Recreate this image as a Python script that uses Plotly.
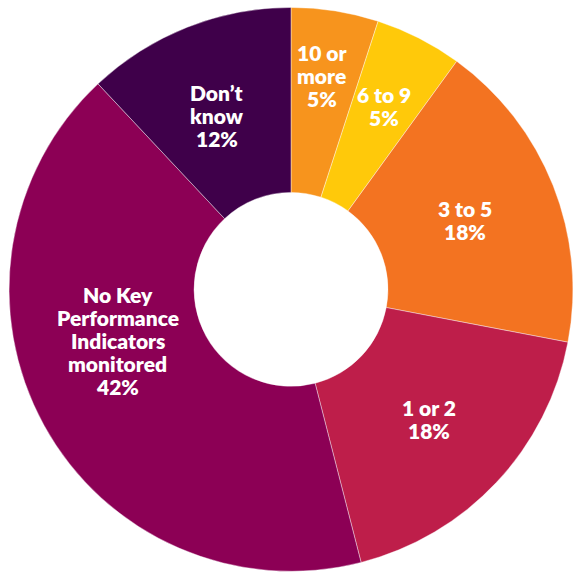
import math
import plotly.graph_objects as go

# Number of Key Performance Indicators monitored
categories = ["10 or more", "6 to 9", "3 to 5", "1 or 2",
              "No Key Performance Indicators monitored", "Don’t know"]
shares = [5, 5, 18, 18, 42, 12]
label_lines = [["10 or", "more"], ["6 to 9"], ["3 to 5"], ["1 or 2"],
               ["No Key", "Performance", "Indicators", "monitored"],
               ["Don’t", "know"]]
colors = ["#F7941D", "#FFC90A", "#F37321", "#BE1E4A", "#8C0055", "#3F004A"]

# label placement: radial fraction of the outer radius and angular nudge (deg)
label_radius = [0.765, 0.73, 0.665, 0.67, 0.64, 0.67]
label_nudge = [-0.8, 0, 0, 0, 12.5, -1.4]
LINE_GAP = 23  # px between text baselines
FONT = dict(family="Lato", size=21, color="white", weight=800)

W = H = 573
dom_x = [0.0157, 1.0]
dom_y = [0.003, 0.987]

fig = go.Figure(go.Pie(
    labels=categories,
    values=shares,
    marker=dict(colors=colors, line=dict(color="white", width=0.4)),
    hole=0.344,
    sort=False,
    direction="clockwise",
    rotation=0,
    textinfo="none",
    hoverinfo="label+percent",
    showlegend=False,
    domain=dict(x=dom_x, y=dom_y),
))

# pie geometry in pixels (plotly uses the smaller side of the domain)
dw = (dom_x[1] - dom_x[0]) * W
dh = (dom_y[1] - dom_y[0]) * H
R = min(dw, dh) / 2
cx = (dom_x[0] + dom_x[1]) / 2 * W
cy = (dom_y[0] + dom_y[1]) / 2 * H  # from bottom

total = sum(shares)
cum = 0
annotations = []
for i, v in enumerate(shares):
    mid = (cum + v / 2) / total * 360 + label_nudge[i]
    cum += v
    a = math.radians(mid)
    r = label_radius[i] * R
    px = cx + r * math.sin(a)
    py = cy + r * math.cos(a)
    lines = label_lines[i] + [f"{v}%"]
    n = len(lines)
    for k, line in enumerate(lines):
        ly = py + ((n - 1) / 2 - k) * LINE_GAP
        annotations.append(dict(
            x=px / W, y=ly / H, xref="paper", yref="paper",
            text=line, showarrow=False, align="center",
            xanchor="center", yanchor="middle", font=FONT,
        ))

fig.update_layout(
    width=W, height=H,
    margin=dict(l=0, r=0, t=0, b=0),
    paper_bgcolor="white",
    plot_bgcolor="white",
    annotations=annotations,
)

fig.write_html("out.html")
